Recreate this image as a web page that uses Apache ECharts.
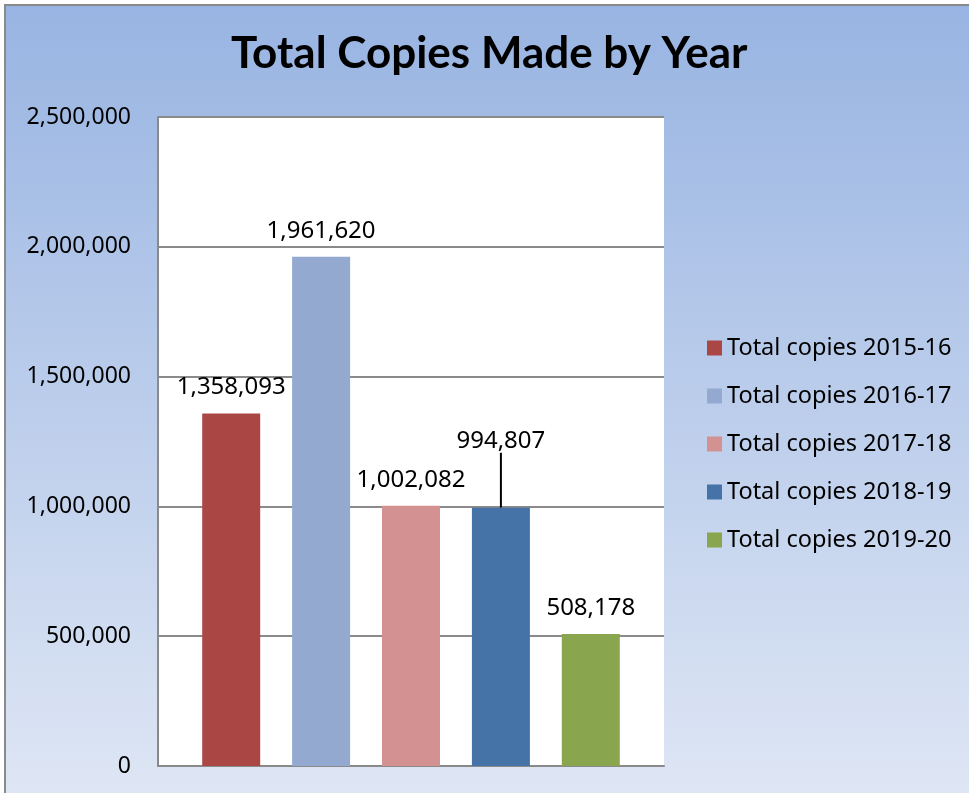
<!DOCTYPE html>
<html>
<head>
<meta charset="utf-8">
<script src="https://cdn.jsdelivr.net/npm/echarts@6/dist/echarts.min.js"></script>
<style>
  html, body { margin: 0; padding: 0; background: #ffffff; }
  #chart { width: 969px; height: 793px; }
</style>
</head>
<body>
<div id="chart"></div>
<script>
// Copies made per school year
const seriesNames = [
  'Total copies 2015-16',
  'Total copies 2016-17',
  'Total copies 2017-18',
  'Total copies 2018-19',
  'Total copies 2019-20'
];
const copyValues = [1358093, 1961620, 1002082, 994807, 508178];
const barColors = ['#AA4643', '#93A9D0', '#D39291', '#4572A7', '#89A54E'];
const yTicks = { min: 0, max: 2500000, interval: 500000 };

const fmt = v => v.toLocaleString('en-US');

const chart = echarts.init(document.getElementById('chart'));

const series = seriesNames.map((name, i) => {
  const s = {
    name: name,
    type: 'bar',
    data: [copyValues[i]],
    barWidth: 58,
    barGap: '55%',
    itemStyle: { color: barColors[i] },
    label: {
      show: true,
      position: 'top',
      distance: 14,
      formatter: p => fmt(p.value),
      color: '#000',
      fontFamily: 'Noto Sans',
      fontSize: 24
    }
  };
  if (i === 3) {
    // this label sits higher with a leader line down to its bar
    s.labelLayout = { dy: -41 };
    s.labelLine = { show: true, lineStyle: { color: '#000', width: 2 } };
  }
  return s;
});

chart.setOption({
  animation: false,
  backgroundColor: '#ffffff',
  graphic: [{
    type: 'rect',
    z: -10,
    shape: { x: 5, y: 5, width: 1000, height: 820 },
    style: {
      fill: new echarts.graphic.LinearGradient(0, 0, 0, 1, [
        { offset: 0, color: '#98B4E2' },
        { offset: 1, color: '#E1E8F5' }
      ]),
      stroke: '#8a8a8a',
      lineWidth: 2
    }
  }],
  title: {
    text: 'Total Copies Made by Year',
    left: 231,
    top: 32,
    padding: 0,
    textStyle: {
      fontFamily: 'Lato',
      fontWeight: 'bold',
      fontSize: 44,
      color: '#000'
    }
  },
  legend: {
    orient: 'vertical',
    left: 707,
    top: 336,
    icon: 'rect',
    itemWidth: 15,
    itemHeight: 15,
    itemGap: 24,
    padding: 0,
    data: seriesNames,
    textStyle: {
      fontFamily: 'Noto Sans',
      fontSize: 23.5,
      lineHeight: 24,
      color: '#000'
    }
  },
  grid: {
    left: 158,
    top: 117,
    width: 506,
    height: 649,
    show: true,
    backgroundColor: '#ffffff',
    borderWidth: 0
  },
  xAxis: {
    type: 'category',
    data: [''],
    axisTick: { show: false },
    axisLabel: { show: false },
    axisLine: { show: true, lineStyle: { color: '#8a8a8a', width: 2 } }
  },
  yAxis: {
    type: 'value',
    min: yTicks.min,
    max: yTicks.max,
    interval: yTicks.interval,
    axisLine: { show: true, lineStyle: { color: '#8a8a8a', width: 2 } },
    axisTick: { show: false },
    splitLine: { show: true, lineStyle: { color: '#8a8a8a', width: 2 } },
    axisLabel: {
      margin: 27,
      color: '#000',
      fontFamily: 'Noto Sans',
      fontSize: 23,
      formatter: v => fmt(v)
    }
  },
  series: series
});
</script>
</body>
</html>
